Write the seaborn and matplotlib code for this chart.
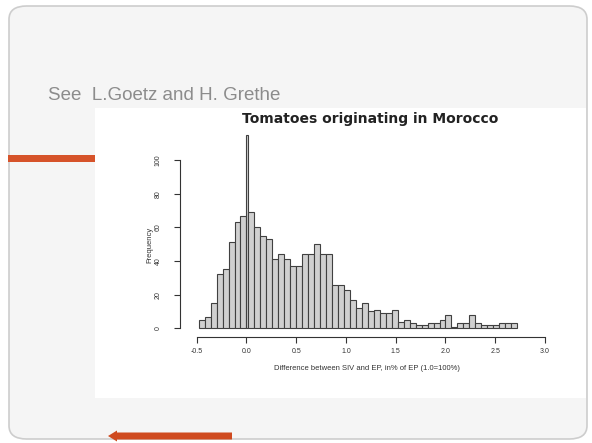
import numpy as np
import pandas as pd
import seaborn as sns
import matplotlib.pyplot as plt
from matplotlib.patches import FancyBboxPatch, Rectangle, FancyArrow

# Histogram counts of the price difference (SIV vs EP), tomatoes from Morocco
bin_width = 0.06
left_start = -0.48
left_counts = [5, 7, 15, 32, 35, 51, 63, 67]          # bins from -0.48 up to 0.0
spike_width = 0.02
spike_count = 115                                    # bin [0.0, 0.02)
right_counts = [69, 60, 55, 53, 41, 44, 41, 37, 37, 44, 44, 50, 44, 44, 26,
                26, 23, 17, 12, 15, 10, 11, 9, 9, 11, 4, 5, 3, 2, 2,
                3, 3, 5, 8, 1, 3, 3, 8, 3, 2, 2, 2, 3, 3, 3]  # bins from 0.02 on

x_ticks = [-0.5, 0.0, 0.5, 1.0, 1.5, 2.0, 2.5, 3.0]
x_tick_labels = ["-0.5", "0.0", "0.5", "1.0", "1.5", "2.0", "2.5", "3.0"]
y_ticks = [0, 20, 40, 60, 80, 100]
y_tick_labels = ["0", "20", "40", "60", "80", "100"]

title = "Tomatoes originating in Morocco"
x_label = "Difference between SIV and EP, in% of EP (1.0=100%)"
y_label = "Frequency"
source = "See  L.Goetz and H. Grethe"

# bin edges and table
left_edges = np.round(left_start + bin_width * np.arange(len(left_counts) + 1), 4)
right_edges = np.round(spike_width + bin_width * np.arange(len(right_counts) + 1), 4)
edges = [float(e) for e in np.concatenate([left_edges, right_edges])]
counts = left_counts + [spike_count] + right_counts
centers = [(a + b) / 2 for a, b in zip(edges[:-1], edges[1:])]
df = pd.DataFrame({"diff": centers, "n": counts})

sns.set_theme(style="white")
plt.rcParams["font.family"] = ["Liberation Sans", "DejaVu Sans"]

W, H = 592, 443
fig = plt.figure(figsize=(W / 100, H / 100), dpi=100)
fig.patch.set_facecolor("white")


def fx(px):
    return px / W


def fy(py):
    return 1 - py / H


# slide frame
fig.patches.append(FancyBboxPatch((fx(9), fy(439)), fx(578), (439 - 6) / H,
                                  boxstyle="round,pad=0,rounding_size=0.03",
                                  transform=fig.transFigure, fc="#f5f5f5",
                                  ec="#cdcdcd", lw=1.2, zorder=0))
# white chart panel
fig.patches.append(Rectangle((fx(95), fy(398)), fx(491), (398 - 108) / H,
                             transform=fig.transFigure, fc="white", ec="none",
                             zorder=0.5))
# orange accent bar and back arrow
fig.patches.append(Rectangle((fx(8), fy(162)), fx(87), 7 / H,
                             transform=fig.transFigure, fc="#d6532a", ec="none",
                             zorder=1))
fig.patches.append(FancyArrow(fx(232), fy(436), -fx(124), 0, width=7 / H,
                              head_width=11 / H, head_length=fx(9),
                              length_includes_head=True,
                              transform=fig.transFigure, fc="#cf4a1f",
                              ec="none", zorder=1))

fig.text(fx(48), fy(95), source, fontsize=13.5, color="#8c8c8c",
         ha="left", va="center", zorder=3)

ax = fig.add_axes([fx(180), (H - 337) / H, fx(560 - 180), (337 - 128) / H])
ax.set_zorder(2)
ax.patch.set_alpha(0)

sns.histplot(data=df, x="diff", weights="n", bins=edges, ax=ax,
             color="#d0d0d0", edgecolor="#404040", linewidth=0.8, alpha=1)

px_per_unit = (545 - 196.7) / 3.5
px_per_count = (328.3 - 160) / 100
ax.set_xlim(-0.5 - (196.7 - 180) / px_per_unit, 3.0 + (560 - 545) / px_per_unit)
ax.set_ylim(-(337 - 328.3) / px_per_count, 100 + (160 - 128) / px_per_count)

sns.despine(ax=ax)
for side in ("left", "bottom"):
    ax.spines[side].set_color("#333333")
    ax.spines[side].set_linewidth(0.8)
ax.spines["left"].set_bounds(0, 100)
ax.spines["bottom"].set_bounds(-0.5, 3.0)

ax.set_xticks(x_ticks)
ax.set_xticklabels(x_tick_labels)
ax.set_yticks(y_ticks)
ax.set_yticklabels(y_tick_labels, rotation=90, va="center")
ax.tick_params(axis="both", bottom=True, left=True, direction="out",
               length=4, width=0.8, color="#333333", labelsize=5,
               labelcolor="#333333")
ax.tick_params(axis="x", pad=4)
ax.tick_params(axis="y", pad=9)

ax.set_xlabel(x_label, fontsize=5.5, color="#333333")
ax.set_ylabel(y_label, fontsize=5.5, color="#333333")
ax.xaxis.set_label_coords((367 - 180) / 380, (337 - 369) / 209)
ax.yaxis.set_label_coords((150 - 180) / 380, (337 - 245) / 209)
ax.xaxis.label.set_va("center")
ax.yaxis.label.set_va("center")

fig.text(fx(370), fy(119), title, fontsize=10, fontweight="bold",
         family=["DejaVu Sans"], color="#222222", ha="center", va="center",
         zorder=3)

fig.savefig("out.png", dpi=100)
